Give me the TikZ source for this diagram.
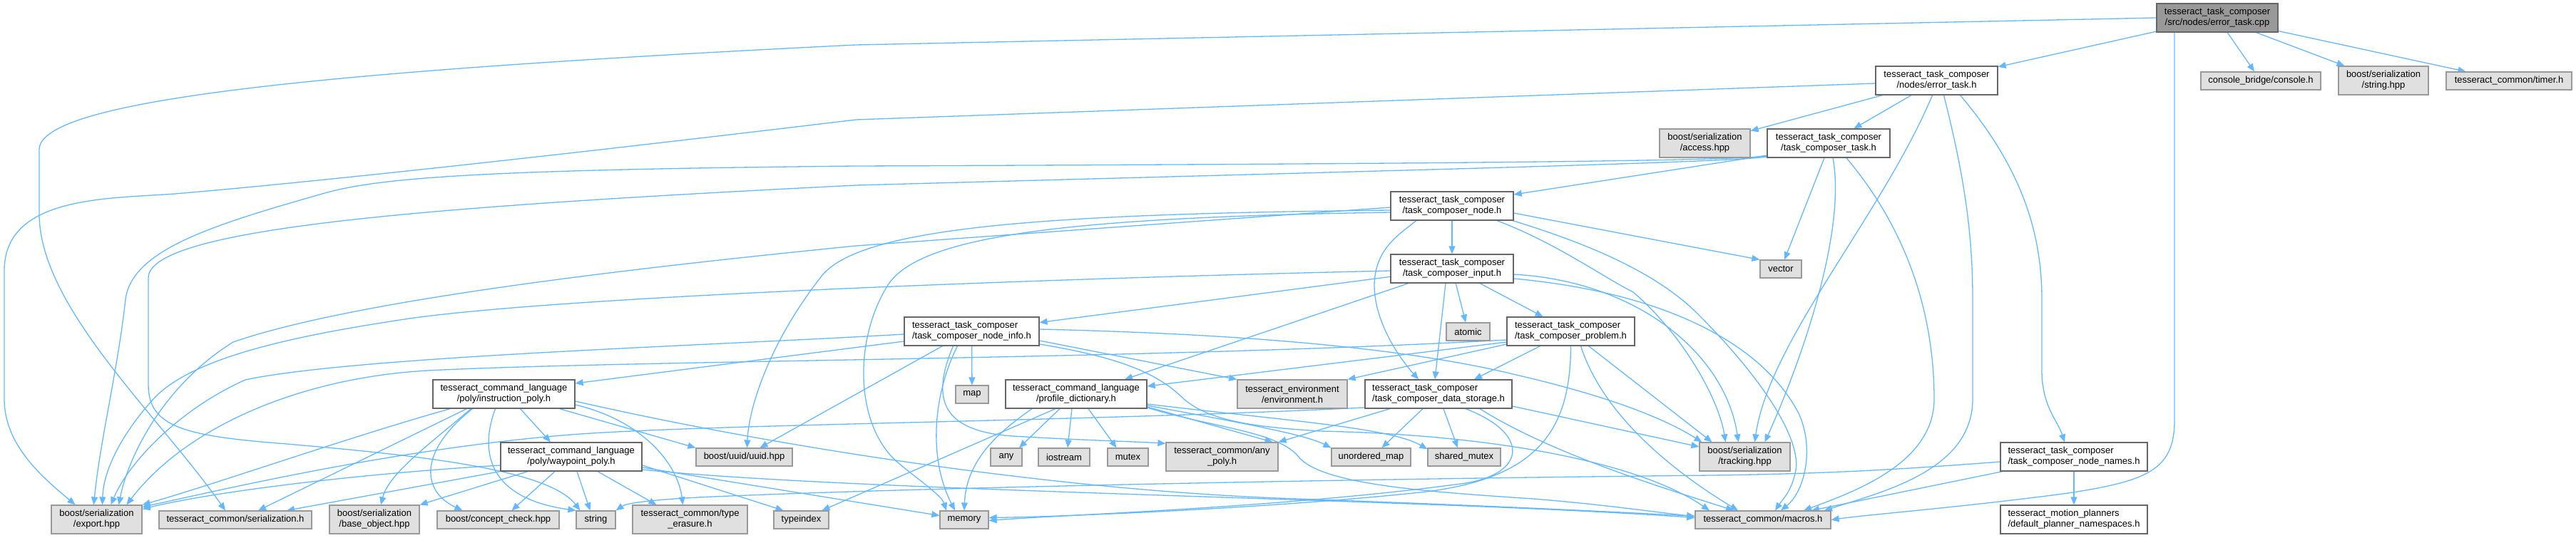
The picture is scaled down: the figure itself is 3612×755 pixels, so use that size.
\documentclass[tikz,border=0pt]{standalone}
\usepackage{fontspec}
\setmainfont{Liberation Sans}
\usetikzlibrary{arrows.meta}
\definecolor{edgeblue}{HTML}{63B8FF}
\definecolor{projborder}{HTML}{666666}
\definecolor{extfill}{HTML}{E0E0E0}
\definecolor{extborder}{HTML}{999999}
\definecolor{rootfill}{HTML}{999999}
\pgfdeclarelayer{bg}
\pgfsetlayers{bg,main}
\tikzset{
 nb/.style={rectangle, inner sep=0pt, line width=1.2pt, font=\fontsize{13pt}{15pt}\selectfont, text=black},
 proj/.style={nb, draw=projborder, fill=white},
 ext/.style={nb, draw=extborder, fill=extfill},
 rootn/.style={nb, draw=projborder, fill=rootfill},
 two/.style={minimum height=40pt},
 one/.style={minimum height=25pt},
 dep/.style={draw=edgeblue, line width=1.3pt, -{Triangle[length=11pt,width=9pt]}},
}
\begin{document}
\begin{tikzpicture}[x=1pt,y=-1pt]
\path[use as bounding box] (0,0) rectangle (3612,755);
% ---------- nodes ----------
\node[rootn,two,minimum width=170pt,align=center] (root) at (3109,25) {tesseract\_task\_composer\\/src/nodes/error\_task.cpp};
\node[proj,two,minimum width=171pt,align=center] (eth) at (2715.5,113) {tesseract\_task\_composer\\/nodes/error\_task.h};
\node[ext,one,minimum width=168pt] (cons) at (3170,113.5) {console\_bridge/console.h};
\node[ext,two,minimum width=126pt,align=center] (strhpp) at (3342,113) {boost/serialization\\/string.hpp};
\node[ext,one,minimum width=176pt] (timer) at (3518,113.5) {tesseract\_common/timer.h};
\node[ext,two,minimum width=127pt,align=center] (access) at (2390.5,201) {boost/serialization\\/access.hpp};
\node[proj,two,minimum width=172pt,align=center] (task) at (2564,201) {tesseract\_task\_composer\\/task\_composer\_task.h};
\node[proj,two,minimum width=172pt,align=center] (node) at (2036,289) {tesseract\_task\_composer\\/task\_composer\_node.h};
\node[proj,two,minimum width=172pt,align=center] (input) at (2036,377) {tesseract\_task\_composer\\/task\_composer\_input.h};
\node[ext,one,minimum width=58pt] (vector) at (2497,377.5) {vector};
\node[proj,two,minimum width=189pt,align=left] (info) at (1362.5,465) {tesseract\_task\_composer\\/task\_composer\_node\_info.h};
\node[ext,one,minimum width=61pt] (atomic) at (2058.5,465.5) {atomic};
\node[proj,two,minimum width=179pt,align=left] (problem) at (2202.5,465) {tesseract\_task\_composer\\/task\_composer\_problem.h};
\node[proj,two,minimum width=199pt,align=center] (instr) at (706.5,553) {tesseract\_command\_language\\/poly/instruction\_poly.h};
\node[ext,one,minimum width=46pt] (map) at (1363,553.5) {map};
\node[proj,two,minimum width=198pt,align=center] (prof) at (1509,553) {tesseract\_command\_language\\/profile\_dictionary.h};
\node[ext,two,minimum width=154pt,align=center] (env) at (1812,553) {tesseract\_environment\\/environment.h};
\node[proj,two,minimum width=206pt,align=left] (store) at (2017,553) {tesseract\_task\_composer\\/task\_composer\_data\_storage.h};
\node[proj,two,minimum width=198pt,align=center] (wayp) at (801,641) {tesseract\_command\_language\\/poly/waypoint\_poly.h};
\node[ext,one,minimum width=135pt] (uuid) at (1043.5,641.5) {boost/uuid/uuid.hpp};
\node[ext,one,minimum width=44pt] (any) at (1411,641.5) {any};
\node[ext,one,minimum width=72pt] (iostream) at (1492,641.5) {iostream};
\node[ext,one,minimum width=57pt] (mutex) at (1581.5,641.5) {mutex};
\node[ext,two,minimum width=157pt,align=center] (anypoly) at (1713.5,641) {tesseract\_common/any\\\_poly.h};
\node[ext,one,minimum width=111pt] (umap) at (1922.5,641.5) {unordered\_map};
\node[ext,one,minimum width=102pt] (smutex) at (2053,641.5) {shared\_mutex};
\node[ext,two,minimum width=127pt,align=center] (tracking) at (2446.5,641) {boost/serialization\\/tracking.hpp};
\node[proj,two,minimum width=206pt,align=left] (names) at (2908,641) {tesseract\_task\_composer\\/task\_composer\_node\_names.h};
\node[ext,two,minimum width=127pt,align=center] (export) at (135.5,729) {boost/serialization\\/export.hpp};
\node[ext,one,minimum width=214pt] (ser) at (330,729.5) {tesseract\_common/serialization.h};
\node[ext,two,minimum width=126pt,align=center] (baseobj) at (525,729) {boost/serialization\\/base\_object.hpp};
\node[ext,one,minimum width=171pt] (concept) at (698.5,729.5) {boost/concept\_check.hpp};
\node[ext,one,minimum width=55pt] (string) at (835.5,729.5) {string};
\node[ext,two,minimum width=161pt,align=center] (typeer) at (967.5,729) {tesseract\_common/type\\\_erasure.h};
\node[ext,one,minimum width=77pt] (typeidx) at (1123.5,729.5) {typeindex};
\node[ext,one,minimum width=68pt] (memory) at (1352,729.5) {memory};
\node[ext,one,minimum width=190pt] (macros) at (2472,729.5) {tesseract\_common/macros.h};
\node[proj,two,minimum width=206pt,align=left] (planner) at (2908,729) {tesseract\_motion\_planners\\/default\_planner\_namespaces.h};
% ---------- edges ----------
\begin{pgfonlayer}{bg}
% root
\draw[dep] (root) -- (eth);
\draw[dep] (root) -- (cons);
\draw[dep] (root) -- (strhpp);
\draw[dep] (root) -- (timer);
\draw[dep] ([xshift=-60pt]root.south) -- (3049,590) .. controls (3049,660) and (3010,675) .. (2900,692) .. controls (2750,712) and (2620,722) .. (macros.east);
\draw[dep] (root.west) -- (1200,63) .. controls (450,100) and (55,140) .. (55,210) -- (55,300) .. controls (55,430) and (220,580) .. ([xshift=-14pt]ser.north);
% error_task.h
\draw[dep] (eth) -- (access);
\draw[dep] (eth) -- (task);
\draw[dep] ([yshift=-4pt]eth.west) -- (1200,168) .. controls (600,240) and (330,265) .. (245,272) .. controls (150,279) and (6,275) .. (6,380) -- (6,560) .. controls (6,625) and (60,670) .. ([xshift=-30pt]export.north);
\draw[dep] ([xshift=-6pt]eth.south) .. controls (2640,300) and (2480,480) .. ([xshift=14pt]tracking.north);
\draw[dep] ([xshift=10pt]eth.south) .. controls (2755,250) and (2766,330) .. (2766,420) -- (2766,560) .. controls (2766,660) and (2640,690) .. ([xshift=86pt]macros.north);
\draw[dep] ([xshift=33pt]eth.south) .. controls (2830,230) and (2863,320) .. (2863,420) -- (2863,520) .. controls (2863,570) and (2885,590) .. ([xshift=-13pt]names.north);
% task
\draw[dep] ([yshift=-17pt]task.west) -- ([yshift=16pt]node.east);
\draw[dep] ([yshift=-18pt]task.west) .. controls (2420,226) and (2000,230) .. (1200,233) .. controls (700,238) and (540,248) .. (459,270) .. controls (300,315) and (185,350) .. (176,420) .. controls (165,520) and (140,620) .. ([xshift=-4pt]export.north);
\draw[dep] ([yshift=-19pt]task.west) .. controls (2420,228) and (2000,238) .. (1200,260) .. controls (600,290) and (208,320) .. (208,390) -- (208,540) .. controls (208,600) and (260,612) .. (402,623) .. controls (600,640) and (770,660) .. ([xshift=-22pt]string.north);
\draw[dep] ([xshift=-6pt]task.south) -- (vector);
\draw[dep] ([xshift=6pt]task.south) .. controls (2590,330) and (2520,520) .. ([xshift=28pt]tracking.north);
\draw[dep] ([xshift=25pt]task.south) .. controls (2680,330) and (2712,450) .. (2712,560) .. controls (2712,650) and (2600,690) .. ([xshift=57pt]macros.north);
% node
\draw[dep] (node) -- (input);
\draw[dep] ([yshift=-2pt]node.west) -- (1200,345) .. controls (900,375) and (500,420) .. (327,480) .. controls (230,540) and (180,640) .. ([xshift=31pt]export.north);
\draw[dep] ([yshift=-6pt]node.west) .. controls (1450,300) and (1200,320) .. (1150,390) .. controls (1080,480) and (1050,570) .. ([xshift=4pt]uuid.north);
\draw[dep] ([yshift=-9pt]node.west) .. controls (1500,305) and (1290,330) .. (1245,400) .. controls (1195,480) and (1200,600) .. (1260,650) .. controls (1290,675) and (1320,695) .. ([xshift=-25pt]memory.north);
\draw[dep] ([xshift=-50pt]node.south) .. controls (1960,330) and (1928,350) .. (1927,400) .. controls (1927,450) and (1960,500) .. ([xshift=-28pt]store.north);
\draw[dep] ([yshift=-10pt]node.east) -- (vector.north west);
\draw[dep] ([xshift=63pt]node.south) .. controls (2180,340) and (2250,390) .. (2290,410) .. controls (2360,470) and (2410,560) .. ([xshift=-27pt]tracking.north);
\draw[dep] ([xshift=85pt]node.south) .. controls (2220,340) and (2320,380) .. (2380,440) .. controls (2480,540) and (2525,620) .. (2518,660) .. controls (2512,690) and (2500,700) .. ([xshift=17pt]macros.north);
% input
\draw[dep] (input) -- (info);
\draw[dep] (input) -- (atomic);
\draw[dep] (input) -- (problem);
\draw[dep] ([xshift=-9pt]input.south) -- ([xshift=-5pt]store.north);
\draw[dep] ([xshift=-61pt]input.south) -- ([xshift=68pt]prof.north);
\draw[dep] ([yshift=-3pt]input.west) .. controls (1500,390) and (800,415) .. (574,447) .. controls (420,470) and (270,500) .. (215,560) .. controls (170,610) and (145,660) .. ([xshift=8pt]export.north);
\draw[dep] ([yshift=-8pt]input.east) .. controls (2300,395) and (2420,500) .. ([xshift=-9pt]tracking.north);
\draw[dep] ([yshift=-14pt]input.east) .. controls (2330,410) and (2470,480) .. (2522,580) .. controls (2545,630) and (2530,690) .. ([xshift=25pt]macros.north);
% node_info
\draw[dep] ([yshift=-4pt]info.west) .. controls (1000,485) and (500,500) .. (344,533) .. controls (250,575) and (180,650) .. ([xshift=20pt]export.north);
\draw[dep] ([yshift=-14pt]info.west) -- ([yshift=15pt]instr.east);
\draw[dep] ([xshift=-41pt]info.south) -- ([xshift=22pt]uuid.north);
\draw[dep] ([xshift=-20pt]info.south) .. controls (1310,550) and (1300,640) .. ([xshift=-13pt]memory.north);
\draw[dep] (info) -- (map);
\draw[dep] ([xshift=-26pt]info.south) .. controls (1305,560) and (1320,605) .. (1420,612) .. controls (1520,618) and (1600,620) .. ([yshift=-2pt]anypoly.north west);
\draw[dep] ([yshift=-13pt]info.east) -- (env.north west);
\draw[dep] ([yshift=3pt]info.east) .. controls (1800,470) and (2000,495) .. (2130,527) .. controls (2250,555) and (2330,585) .. ([xshift=-60pt]tracking.north);
\draw[dep] ([yshift=-18pt]info.east) .. controls (1560,500) and (1620,520) .. (1660,560) .. controls (1700,595) and (1780,600) .. (1850,605) .. controls (2100,610) and (2300,650) .. ([xshift=-75pt]macros.north);
% problem
\draw[dep] ([xshift=-43pt]problem.south) -- ([xshift=50pt]store.north);
\draw[dep] ([yshift=-18pt]problem.west) -- (env.north east);
\draw[dep] ([yshift=-15pt]problem.west) -- ([yshift=11pt]prof.east);
\draw[dep] ([yshift=-12pt]problem.west) .. controls (1600,505) and (900,505) .. (600,520) .. controls (420,530) and (260,600) .. ([xshift=42pt]export.north);
\draw[dep] (problem.south) .. controls (2202,600) and (2160,670) .. (2000,690) .. controls (1800,712) and (1500,725) .. ([yshift=3pt]memory.east);
\draw[dep] ([xshift=14pt]problem.south) .. controls (2250,590) and (2360,670) .. ([xshift=-35pt]macros.north);
\draw[dep] ([xshift=25pt]problem.south) -- ([xshift=-46pt]tracking.north);
% data storage
\draw[dep] ([xshift=-22pt]store.south) -- ([xshift=15pt]umap.north);
\draw[dep] ([xshift=7pt]store.south) -- ([xshift=-9pt]smutex.north);
\draw[dep] ([xshift=38pt]store.south) .. controls (2150,610) and (2140,670) .. (2040,680) .. controls (1800,712) and (1500,722) .. ([yshift=-1pt]memory.east);
\draw[dep] ([yshift=-19pt]store.west) .. controls (1500,592) and (1000,595) .. (800,610) .. controls (550,630) and (300,690) .. ([yshift=-3pt]export.north east);
\draw[dep] ([yshift=-17pt]store.east) -- ([yshift=14pt]tracking.west);
\draw[dep] ([xshift=-68pt]store.south) -- (anypoly.north east);
\draw[dep] ([xshift=58pt]store.south) .. controls (2180,640) and (2350,690) .. ([xshift=-41pt]macros.north);
% profile dictionary
\draw[dep] ([xshift=-62pt]prof.south) .. controls (1410,600) and (1355,640) .. (memory.north);
\draw[dep] ([xshift=-29pt]prof.south) -- ([xshift=29pt]typeidx.north);
\draw[dep] ([xshift=-23pt]prof.south) -- ([xshift=18pt]any.north);
\draw[dep] ([xshift=-6pt]prof.south) -- ([xshift=5pt]iostream.north);
\draw[dep] ([xshift=17pt]prof.south) -- ([xshift=-16pt]mutex.north);
\draw[dep] ([yshift=-18pt]prof.east) -- ([xshift=-8pt]anypoly.north east);
\draw[dep] ([yshift=-16pt]prof.east) .. controls (1750,595) and (1830,610) .. (umap.north west);
\draw[dep] ([yshift=-14pt]prof.east) .. controls (1800,590) and (1950,600) .. ([yshift=-2pt]smutex.north west);
\draw[dep] ([yshift=-19pt]prof.east) .. controls (1700,600) and (1790,605) .. (1820,640) .. controls (1850,680) and (2000,690) .. (2150,700) .. controls (2250,708) and (2330,720) .. ([yshift=5pt]macros.west);
% instruction poly
\draw[dep] ([xshift=-75pt]instr.south) .. controls (500,610) and (300,680) .. (export.north east);
\draw[dep] ([xshift=-52pt]instr.south) -- ([xshift=32pt]ser.north);
\draw[dep] ([xshift=-46pt]instr.south) .. controls (600,625) and (545,665) .. ([xshift=9pt]baseobj.north);
\draw[dep] ([xshift=-44pt]instr.south) .. controls (585,635) and (592,690) .. ([xshift=-50pt]concept.north);
\draw[dep] ([xshift=-12pt]instr.south) .. controls (670,640) and (690,700) .. (string.north west);
\draw[dep] ([xshift=23pt]instr.south) -- ([xshift=-29pt]wayp.north);
\draw[dep] ([xshift=78pt]instr.south) -- (uuid.north west);
\draw[dep] ([yshift=-15pt]instr.east) .. controls (900,590) and (950,650) .. ([xshift=-10pt]typeer.north);
\draw[dep] ([yshift=-10pt]instr.east) .. controls (1100,630) and (1500,690) .. (1820,700) .. controls (2100,710) and (2300,720) .. ([yshift=5pt]macros.west);
% waypoint poly
\draw[dep] ([yshift=-12pt]wayp.west) .. controls (500,665) and (300,690) .. ([yshift=-6pt]export.north east);
\draw[dep] (wayp.south west) -- ([xshift=72pt]ser.north);
\draw[dep] ([xshift=-61pt]wayp.south) -- (baseobj.north east);
\draw[dep] ([xshift=-23pt]wayp.south) -- ([xshift=19pt]concept.north);
\draw[dep] ([xshift=8pt]wayp.south) -- ([xshift=-8pt]string.north);
\draw[dep] ([xshift=37pt]wayp.south) -- ([xshift=-47pt]typeer.north);
\draw[dep] ([yshift=-12pt]wayp.east) -- ([xshift=-25pt]typeidx.north);
\draw[dep] ([yshift=-15pt]wayp.east) -- ([yshift=6pt]memory.west);
\draw[dep] ([yshift=-18pt]wayp.east) .. controls (1200,690) and (2000,700) .. ([yshift=3pt]macros.west);
% node names
\draw[dep] (names) -- (planner);
\draw[dep] ([yshift=-7pt]names.west) .. controls (2650,660) and (2550,665) .. (2400,667) .. controls (1900,672) and (1300,684) .. (1000,697) .. controls (930,700) and (880,705) .. (string.north east);
\draw[dep] ([xshift=-100pt]names.south) -- ([xshift=68pt]macros.north);
\end{pgfonlayer}
\end{tikzpicture}
\end{document}
